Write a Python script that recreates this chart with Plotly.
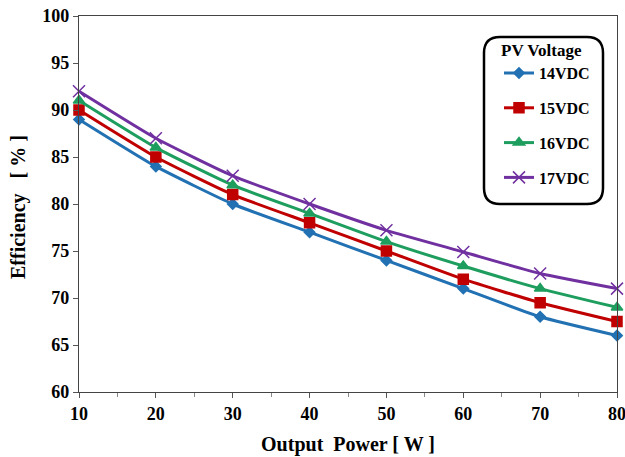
import plotly.graph_objects as go

power = [10, 20, 30, 40, 50, 60, 70, 80]
eff_14 = [89, 84, 80, 77, 74, 71, 68, 66]
eff_15 = [90, 85, 81, 78, 75, 72, 69.5, 67.5]
eff_16 = [91, 86, 82, 79, 76, 73.4, 71, 69]
eff_17 = [92, 87, 83, 80, 77.2, 74.9, 72.6, 71]
names = ["14VDC", "15VDC", "16VDC", "17VDC"]

series = [eff_14, eff_15, eff_16, eff_17]
colors = ["#2271B3", "#C00000", "#1E9E5E", "#7030A0"]
symbols = ["diamond", "square", "triangle-up", "x-thin"]
msizes = [8, 10, 10, 12]

FONT = "Liberation Serif"
fig = go.Figure()
for i, (nm, ys) in enumerate(zip(names, series)):
    fig.add_trace(go.Scatter(
        x=power, y=ys, name=f"<b>{nm}</b>", mode="lines+markers",
        line=dict(color=colors[i], width=3, shape="spline", smoothing=0.5),
        marker=dict(symbol=symbols[i], size=msizes[i], color=colors[i],
                    line=dict(color=colors[i], width=1.5)),
        legendgroup=nm, cliponaxis=False,
    ))

L, R, T, B = 79, 8, 16, 65
W, H = 625, 457
pw, ph = W - L - R, H - T - B

def px_to_paper(x, y):
    return (x - L) / pw, (H - B - y) / ph

x0, y0 = px_to_paper(484, 204)
x1, y1 = px_to_paper(603, 37)
rx, ry = 16 / pw, 16 / ph
path = (f"M {x0+rx},{y1} L {x1-rx},{y1} Q {x1},{y1} {x1},{y1-ry} "
        f"L {x1},{y0+ry} Q {x1},{y0} {x1-rx},{y0} L {x0+rx},{y0} "
        f"Q {x0},{y0} {x0},{y0+ry} L {x0},{y1-ry} Q {x0},{y1} {x0+rx},{y1} Z")
fig.add_shape(type="path", xref="paper", yref="paper", path=path,
              line=dict(color="black", width=2.5), fillcolor="white", layer="below")

ytitle_x, ytitle_y = px_to_paper(18, 207)
fig.add_annotation(x=ytitle_x, y=ytitle_y, xref="paper", yref="paper",
                   text="<b>Efficiency   [ % ]</b>", textangle=-90, showarrow=False,
                   xanchor="center", yanchor="middle",
                   font=dict(family=FONT, size=20, color="black"))

tickfont = dict(family=FONT, size=18, color="black")
fig.update_layout(
    width=W, height=H,
    margin=dict(l=L, r=R, t=T, b=B),
    paper_bgcolor="white", plot_bgcolor="white",
    font=dict(family=FONT, color="black"),
    showlegend=True,
    legend=dict(
        x=px_to_paper(499, 0)[0], y=px_to_paper(0, 34)[1],
        xanchor="left", yanchor="top",
        bgcolor="rgba(0,0,0,0)", borderwidth=0,
        title=dict(text="<b>PV Voltage</b>", font=dict(family=FONT, size=17, color="black")),
        font=dict(family=FONT, size=16, color="black"),
        traceorder="grouped", tracegroupgap=11,
        itemwidth=30,
    ),
    xaxis=dict(
        range=[10, 80], tickvals=power, ticktext=[f"<b>{v}</b>" for v in power],
        tickfont=tickfont, ticks="outside", ticklen=5, tickcolor="#555",
        ticklabeloverflow="allow",
        minor=dict(tickvals=[15, 25, 35, 45, 55, 65, 75], ticks="outside", ticklen=4, tickcolor="#888"),
        showline=True, linecolor="#444", linewidth=1.2, mirror=True,
        showgrid=False, zeroline=False,
        title=dict(text="<b>Output  Power [ W ]</b>", font=dict(family=FONT, size=20), standoff=14),
        automargin=False,
    ),
    yaxis=dict(
        range=[60, 100], tickvals=list(range(60, 101, 5)),
        ticktext=[f"<b>{v}</b>" for v in range(60, 101, 5)],
        tickfont=tickfont, ticks="outside", ticklen=5, tickcolor="#555",
        showline=True, linecolor="#444", linewidth=1.2, mirror=True,
        showgrid=False, zeroline=False,
        automargin=False,
    ),
)
fig.write_html("out.html", config={"displayModeBar": False},
               post_script="document.body.style.margin='0px';")
